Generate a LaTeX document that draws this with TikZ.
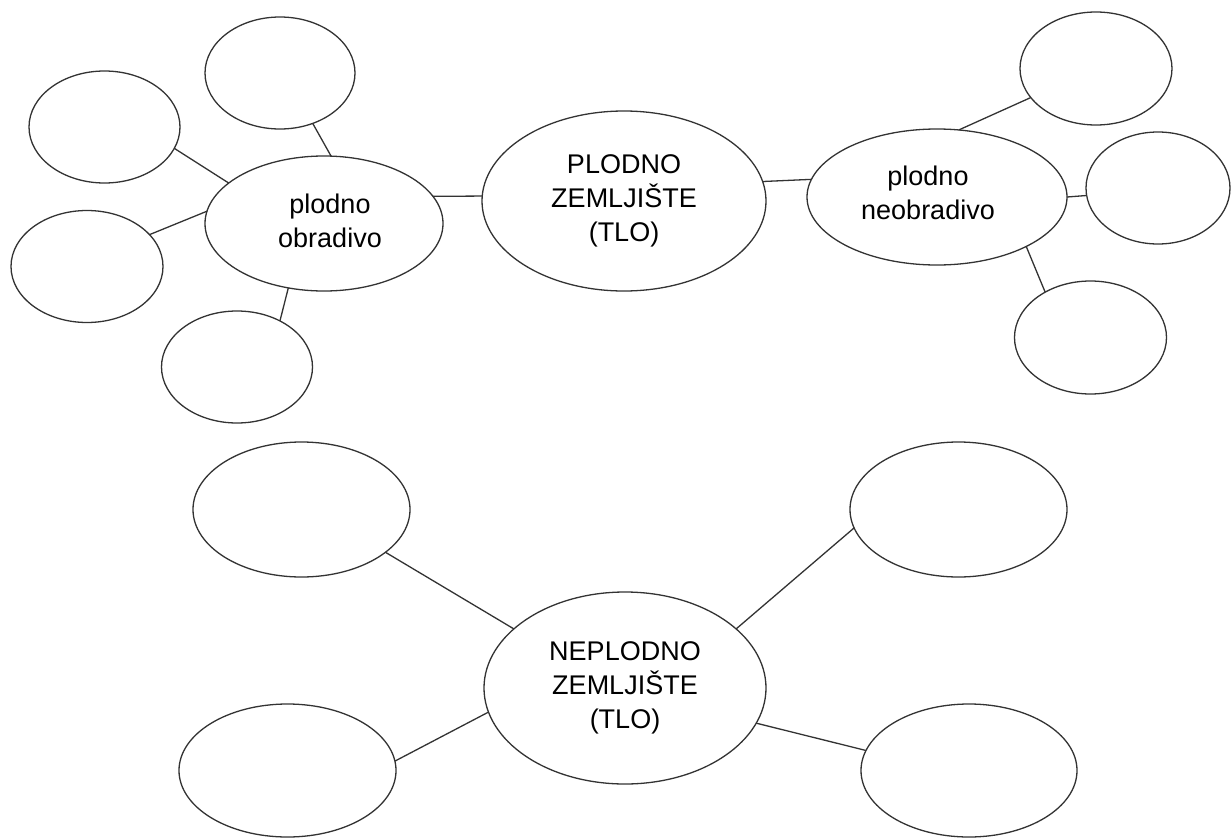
\documentclass[tikz,border=0pt]{standalone}
\usepackage{fontspec}
\setmainfont{Liberation Sans}
\usetikzlibrary{shapes.geometric}
\tikzset{
  bub/.style={ellipse, draw=black!80, line width=1.3pt, inner sep=0pt, outer sep=0pt,
    align=center, font=\fontsize{27}{34}\selectfont},
  txt/.style={align=center, font=\fontsize{27}{34}\selectfont, inner sep=0pt},
  link/.style={draw=black!80, line width=1.3pt},
}
\begin{document}
\begin{tikzpicture}[x=1pt,y=-1pt]
\fill[white] (0,0) rectangle (1232,838);
\useasboundingbox (0,0) rectangle (1232,838);
% top-left cluster
\node[bub, minimum width=238pt, minimum height=135pt,
  label={[txt, name=pot, xshift=6pt, yshift=3pt]center:{plodno\\obradivo}}] (po) at (324,223.5) {};
\node[bub, minimum width=150pt, minimum height=112pt] (a) at (280,73) {};
\node[bub, minimum width=151pt, minimum height=112pt] (b) at (104.5,127) {};
\node[bub, minimum width=152pt, minimum height=112pt] (c) at (87,266.5) {};
\node[bub, minimum width=151pt, minimum height=112pt] (d) at (237,367) {};
% centre
\node[bub, minimum width=284pt, minimum height=180pt] (pz) at (624,201) {PLODNO\\ZEMLJIŠTE\\(TLO)};
% right cluster
\node[bub, minimum width=260pt, minimum height=136pt,
  label={[txt, name=pnt, xshift=-9pt, yshift=4pt]center:{plodno\\neobradivo}}] (pn) at (937,197) {};
\node[bub, minimum width=152pt, minimum height=113pt] (rt) at (1096,68.5) {};
\node[bub, minimum width=144pt, minimum height=112pt] (rm) at (1158,188) {};
\node[bub, minimum width=152pt, minimum height=113pt] (rb) at (1090.5,337.5) {};
% bottom
\node[bub, minimum width=282pt, minimum height=192pt] (np) at (625,688) {NEPLODNO\\ZEMLJIŠTE\\(TLO)};
\node[bub, minimum width=217pt, minimum height=135pt] (blt) at (301.5,509.5) {};
\node[bub, minimum width=217pt, minimum height=133pt] (blb) at (287.5,770.5) {};
\node[bub, minimum width=217pt, minimum height=135pt] (brt) at (958.5,509.5) {};
\node[bub, minimum width=216pt, minimum height=133pt] (brb) at (969,770.5) {};
% connectors
\draw[link] (po.157.1) -- (b.-17.1);
\draw[link] (po.84.9) -- (a.-57.1);
\draw[link] (po.174) -- (c.27.6);
\draw[link] (po.-119.1) -- (d.47);
\draw[link] (po.14.2) -- (pz.178);
\draw[link] (pz.8.9) -- (pn.172.1);
\draw[link] (pn.72.9) -- (rt.204.7);
\draw[link] (pn.0.4) -- (rm.186.4);
\draw[link] (pn.-29.5) -- (rb.135);
\draw[link] (np.152.4) -- (blt.-27.5);
\draw[link] (np.190.5) -- (blb.5.8);
\draw[link] (np.28) -- (brt.190.8);
\draw[link] (np.-15.7) -- (brb.169.9);
\end{tikzpicture}
\end{document}
